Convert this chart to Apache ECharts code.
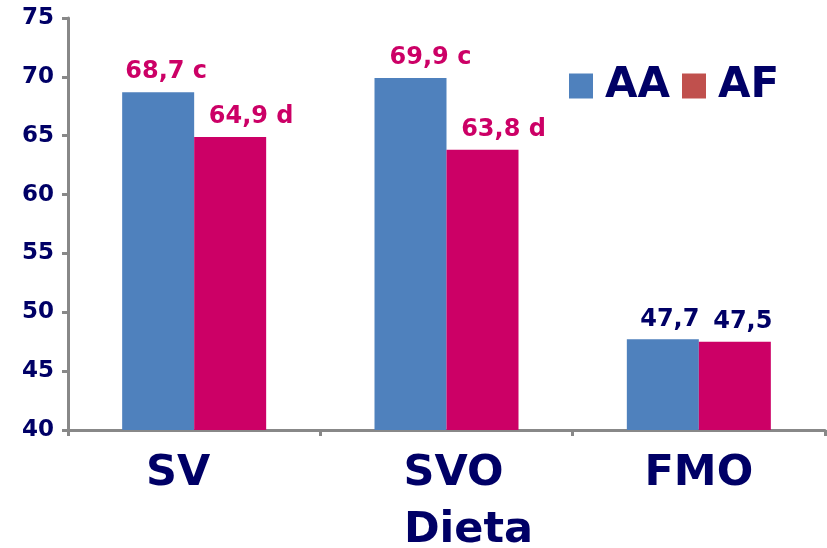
<!DOCTYPE html>
<html><head><meta charset="utf-8">
<script src="https://cdn.jsdelivr.net/npm/echarts@6/dist/echarts.min.js"></script>
<style>html,body{margin:0;padding:0;background:#fff}#c{width:827px;height:548px}</style>
</head><body><div id="c"></div>
<script>
const categories = ['SV', 'SVO', 'FMO'];
const seriesNames = ['AA', 'AF'];
const aaValues = [68.7, 69.9, 47.7];
const afValues = [64.9, 63.8, 47.5];
const aaLetters = ['c', 'c', ''];
const afLetters = ['d', 'd', ''];
const yTicks = [40, 45, 50, 55, 60, 65, 70, 75];
const axisName = 'Dieta';

const navy = '#000066';
const magenta = '#cc0066';
const font = 'DejaVu Sans';
const aaOffsets = [8, 20, 7];
const afOffsets = [21, 21, 8];
const labelColors = [magenta, magenta, navy];
const catStyleKeys = ['l', 'r', 'n'];

function fmt(v, letter) {
  const s = v.toFixed(1).replace('.', ',');
  return letter ? s + ' ' + letter : s;
}
function build(values, letters, offsets) {
  return values.map((v, i) => ({
    value: v,
    label: {
      formatter: fmt(v, letters[i]),
      color: labelColors[i],
      offset: [offsets[i], 0]
    }
  }));
}

const catBase = { fontSize: 43, fontWeight: 'bold', color: navy, fontFamily: font };

const chart = echarts.init(document.getElementById('c'));
chart.setOption({
  animation: false,
  textStyle: { fontFamily: font },
  legend: {
    data: [
      { name: 'AA', itemStyle: { color: '#4f81bd' } },
      { name: 'AF', itemStyle: { color: '#c0504d' } }
    ],
    left: 564, top: 60,
    itemWidth: 24, itemHeight: 25, itemGap: 12,
    icon: 'rect',
    textStyle: { fontSize: 42, fontWeight: 'bold', color: navy, fontFamily: font, padding: [0, 0, 0, 7] }
  },
  grid: { left: 68, right: 2, top: 18, bottom: 118, containLabel: false, outerBoundsMode: 'none' },
  xAxis: {
    type: 'category',
    data: categories,
    name: axisName,
    nameLocation: 'middle',
    nameGap: 79,
    nameTextStyle: { fontSize: 43, fontWeight: 'bold', color: navy, fontFamily: font, padding: [0, 0, 0, 44] },
    axisLine: { lineStyle: { color: '#888888', width: 3 } },
    axisTick: { show: true, length: 6, lineStyle: { color: '#888888', width: 3 } },
    axisLabel: {
      margin: 22,
      formatter: (v, i) => '{' + catStyleKeys[i] + '|' + v + '}',
      rich: {
        l: Object.assign({ padding: [0, 32, 0, 0] }, catBase),
        r: Object.assign({ padding: [0, 0, 0, 14] }, catBase),
        n: Object.assign({}, catBase)
      }
    }
  },
  yAxis: {
    type: 'value',
    min: 40, max: 75, interval: 5,
    splitLine: { show: false },
    axisLine: { show: true, lineStyle: { color: '#888888', width: 3 } },
    axisTick: { show: true, length: 6, lineStyle: { color: '#888888', width: 3 } },
    axisLabel: { fontSize: 23, fontWeight: 'bold', color: navy, margin: 14, fontFamily: font,
      formatter: v => yTicks.includes(v) ? String(v) : '' }
  },
  series: [
    {
      name: seriesNames[0], type: 'bar', barWidth: 72, barGap: '0%',
      itemStyle: { color: '#4f81bd' },
      label: { show: true, position: 'top', distance: 8, fontSize: 24, fontWeight: 'bold', fontFamily: font },
      data: build(aaValues, aaLetters, aaOffsets)
    },
    {
      name: seriesNames[1], type: 'bar', barWidth: 72, barGap: '0%',
      itemStyle: { color: magenta },
      label: { show: true, position: 'top', distance: 8, fontSize: 24, fontWeight: 'bold', fontFamily: font },
      data: build(afValues, afLetters, afOffsets)
    }
  ]
});
</script></body></html>
